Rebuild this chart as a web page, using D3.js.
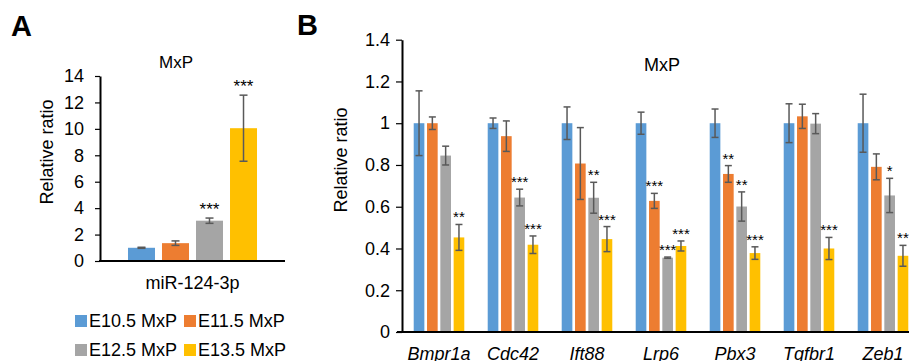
<!DOCTYPE html>
<html>
<head>
<meta charset="utf-8">
<script src="https://cdn.jsdelivr.net/npm/d3@7"></script>
<style>
  body { margin: 0; background: #fff; }
  svg text { font-family: "Liberation Sans", Arial, sans-serif; fill: #000; }
</style>
</head>
<body>
<div id="chart"></div>
<script>
// data
const stages = ['E10.5 MxP', 'E11.5 MxP', 'E12.5 MxP', 'E13.5 MxP'];
const colors = ['#5B9BD5', '#ED7D31', '#A5A5A5', '#FFC000'];

// panel A
const miCategories = ['miR-124-3p'];
const miMean = [1.0, 1.35, 3.05, 10.05];
const miErr = [0.04, 0.17, 0.2, 2.5];
const miStars = ['', '', '***', '***'];
const miTicks = [0, 2, 4, 6, 8, 10, 12, 14];

// panel B
const genes = ['Bmpr1a', 'Cdc42', 'Ift88', 'Lrp6', 'Pbx3', 'Tgfbr1', 'Zeb1'];
const e105Mean = [1, 1, 1, 1, 1, 1, 1];
const e115Mean = [1.0, 0.938, 0.807, 0.628, 0.757, 1.033, 0.791];
const e125Mean = [0.845, 0.644, 0.643, 0.356, 0.601, 0.998, 0.654];
const e135Mean = [0.453, 0.418, 0.445, 0.412, 0.378, 0.40, 0.365];
const e105Err = [0.155, 0.025, 0.078, 0.053, 0.068, 0.093, 0.139];
const e115Err = [0.03, 0.073, 0.172, 0.036, 0.04, 0.058, 0.062];
const e125Err = [0.045, 0.04, 0.074, 0.003, 0.07, 0.048, 0.082];
const e135Err = [0.062, 0.042, 0.06, 0.024, 0.03, 0.053, 0.05];
const e105Stars = ['', '', '', '', '', '', ''];
const e115Stars = ['', '', '', '***', '**', '', ''];
const e125Stars = ['', '***', '**', '***', '**', '', '*'];
const e135Stars = ['**', '***', '***', '***', '***', '***', '**'];
const geneTicks = [0, 0.2, 0.4, 0.6, 0.8, 1.0, 1.2, 1.4];

const W = 909, H = 361;
const errColor = '#595959';

const svg = d3.select('#chart').append('svg')
  .attr('width', W).attr('height', H);

// panel letters
svg.append('text').attr('x', 11).attr('y', 36)
  .style('font-size', '29px').style('font-weight', 'bold').text('A');
svg.append('text').attr('x', 297).attr('y', 35)
  .style('font-size', '29px').style('font-weight', 'bold').text('B');

function styleAxis(g, pad) {
  g.select('.domain').attr('stroke', '#000').attr('stroke-width', 2);
  g.selectAll('.tick line').attr('stroke', '#000').attr('stroke-width', 1.2);
  g.selectAll('.tick text').attr('x', -pad).style('font-size', '18px')
    .attr('fill', '#000');
}

// ---------- panel A ----------
const xA = d3.scaleBand().domain(miCategories).range([100, 285]);
const innerA = d3.scaleBand().domain(stages).range([0, xA.bandwidth()])
  .paddingInner(0.206).paddingOuter(0.823);
const yA = d3.scaleLinear().domain([0, 14]).range([261, 76]);

const rowsA = stages.map((s, i) => ({
  cat: miCategories[0], stage: s, mean: miMean[i], err: miErr[i], star: miStars[i], c: colors[i]
}));

const gA = svg.append('g');
gA.selectAll('rect.bar').data(rowsA).enter().append('rect')
  .attr('x', d => xA(d.cat) + innerA(d.stage))
  .attr('width', innerA.bandwidth())
  .attr('y', d => yA(d.mean))
  .attr('height', d => yA(0) - yA(d.mean))
  .attr('fill', d => d.c);

function errorBars(g, rows, xf, bw, y, cap) {
  const eb = g.selectAll('g.err').data(rows).enter().append('g')
    .attr('stroke', errColor).attr('stroke-width', 1.5);
  eb.append('line')
    .attr('x1', d => xf(d) + bw / 2).attr('x2', d => xf(d) + bw / 2)
    .attr('y1', d => y(d.mean + d.err)).attr('y2', d => y(d.mean - d.err));
  eb.append('line')
    .attr('x1', d => xf(d) + bw / 2 - cap).attr('x2', d => xf(d) + bw / 2 + cap)
    .attr('y1', d => y(d.mean + d.err)).attr('y2', d => y(d.mean + d.err));
  eb.append('line')
    .attr('x1', d => xf(d) + bw / 2 - cap).attr('x2', d => xf(d) + bw / 2 + cap)
    .attr('y1', d => y(d.mean - d.err)).attr('y2', d => y(d.mean - d.err));
}

errorBars(gA, rowsA, d => xA(d.cat) + innerA(d.stage), innerA.bandwidth(), yA, 4);

gA.selectAll('text.star').data(rowsA.filter(d => d.star)).enter().append('text')
  .attr('x', d => xA(d.cat) + innerA(d.stage) + innerA.bandwidth() / 2)
  .attr('y', d => yA(d.mean + d.err) - 3)
  .attr('text-anchor', 'middle').style('font-size', '17px')
  .text(d => d.star);

const yAxisA = gA.append('g').attr('transform', 'translate(100,0)')
  .call(d3.axisLeft(yA).tickValues(miTicks).tickSize(5).tickSizeOuter(0));
styleAxis(yAxisA, 16);

gA.append('line').attr('x1', 99).attr('x2', 285)
  .attr('y1', yA(0)).attr('y2', yA(0))
  .attr('stroke', '#000').attr('stroke-width', 2);

gA.append('text').attr('x', xA(miCategories[0]) + xA.bandwidth() / 2).attr('y', 289)
  .attr('text-anchor', 'middle').style('font-size', '18px').text(miCategories[0]);

gA.append('text').attr('x', 176).attr('y', 68)
  .attr('text-anchor', 'middle').style('font-size', '17px').text('MxP');

gA.append('text').attr('transform', 'translate(53,152) rotate(-90)')
  .attr('text-anchor', 'middle').style('font-size', '18px').text('Relative ratio');

// legend
const legend = gA.selectAll('g.leg').data(stages).enter().append('g')
  .attr('transform', (d, i) => `translate(${75 + (i % 2) * 109},${315 + Math.floor(i / 2) * 29})`);
legend.append('rect').attr('width', 12).attr('height', 12)
  .attr('fill', (d, i) => colors[i]);
legend.append('text').attr('x', 14).attr('y', 12)
  .style('font-size', '18px').text(d => d);

// ---------- panel B ----------
const xB = d3.scaleBand().domain(genes).range([402, 920]);
const innerB = d3.scaleBand().domain(stages).range([0, xB.bandwidth()])
  .paddingInner(0.2).paddingOuter(0.88);
const yB = d3.scaleLinear().domain([0, 1.4]).range([332, 39.7]);

const means = [e105Mean, e115Mean, e125Mean, e135Mean];
const errs = [e105Err, e115Err, e125Err, e135Err];
const stars = [e105Stars, e115Stars, e125Stars, e135Stars];
const rowsB = [];
genes.forEach((g, gi) => {
  stages.forEach((s, si) => {
    rowsB.push({ gene: g, stage: s, mean: means[si][gi], err: errs[si][gi], star: stars[si][gi], c: colors[si] });
  });
});

const gB = svg.append('g');
gB.selectAll('rect.bar').data(rowsB).enter().append('rect')
  .attr('x', d => xB(d.gene) + innerB(d.stage))
  .attr('width', innerB.bandwidth())
  .attr('y', d => yB(d.mean))
  .attr('height', d => yB(0) - yB(d.mean))
  .attr('fill', d => d.c);

errorBars(gB, rowsB, d => xB(d.gene) + innerB(d.stage), innerB.bandwidth(), yB, 3.5);

gB.selectAll('text.star').data(rowsB.filter(d => d.star)).enter().append('text')
  .attr('x', d => xB(d.gene) + innerB(d.stage) + innerB.bandwidth() / 2)
  .attr('y', d => yB(d.mean + d.err) - 2)
  .attr('text-anchor', 'middle').style('font-size', '15px')
  .text(d => d.star);

const yAxisB = gB.append('g').attr('transform', 'translate(402,0)')
  .call(d3.axisLeft(yB).tickValues(geneTicks).tickSize(6).tickSizeOuter(0)
    .tickFormat(d => String(+d.toFixed(1))));
styleAxis(yAxisB, 12);

gB.append('line').attr('x1', 397).attr('x2', W)
  .attr('y1', yB(0)).attr('y2', yB(0))
  .attr('stroke', '#000').attr('stroke-width', 2);

gB.selectAll('text.gene').data(genes).enter().append('text')
  .attr('x', d => xB(d) + xB.bandwidth() / 2).attr('y', 360)
  .attr('text-anchor', 'middle').style('font-size', '18px').style('font-style', 'italic')
  .text(d => d);

gB.append('text').attr('x', 662).attr('y', 71)
  .attr('text-anchor', 'middle').style('font-size', '18px').text('MxP');

gB.append('text').attr('transform', 'translate(347,160) rotate(-90)')
  .attr('text-anchor', 'middle').style('font-size', '18px').text('Relative ratio');
</script>
</body>
</html>
